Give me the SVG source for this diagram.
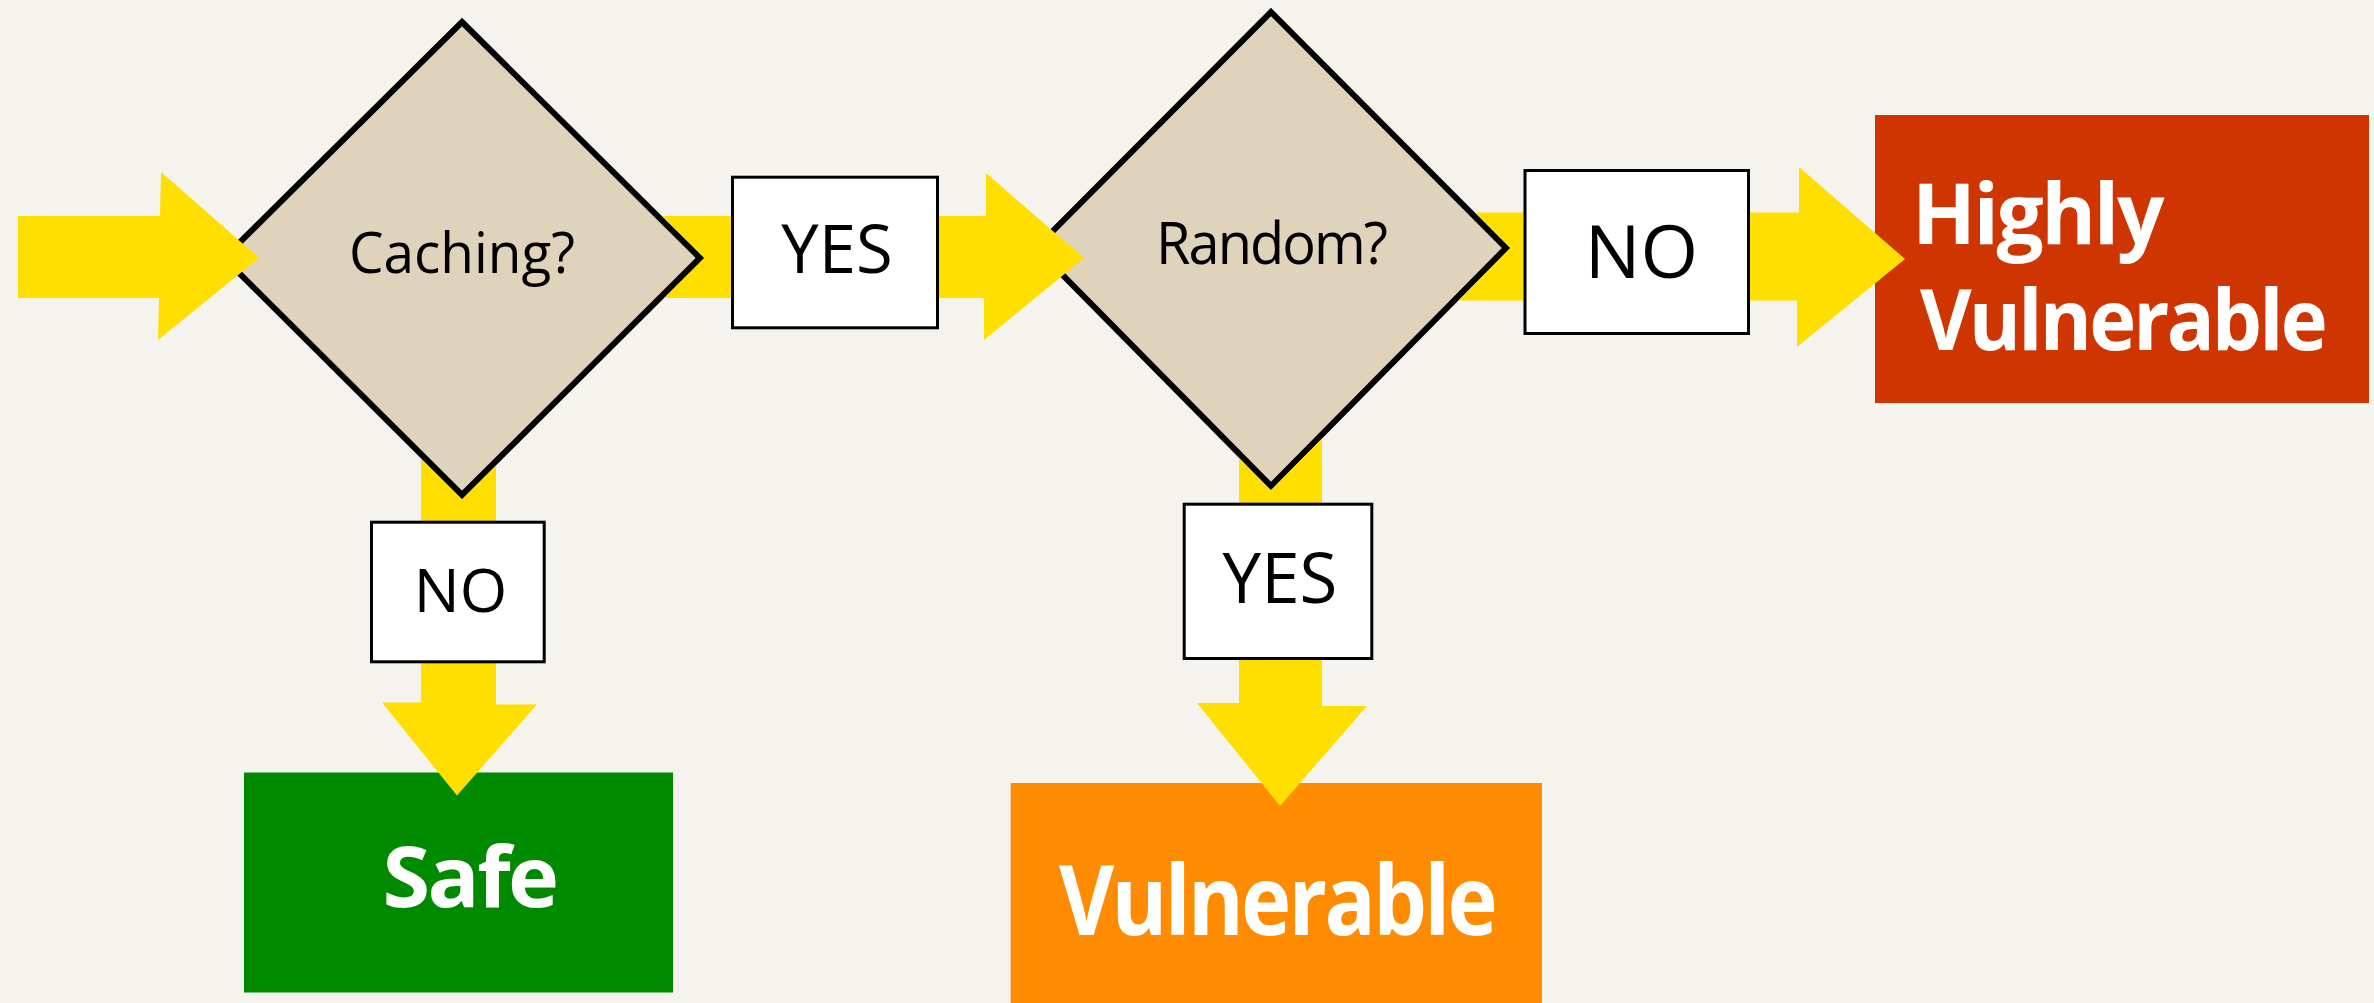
<svg xmlns="http://www.w3.org/2000/svg" width="2374" height="1003" viewBox="0 0 2374 1003">
<style>
.bg{fill:#F5F3EE}
.dia{fill:#E0D3BC;stroke:#000;stroke-width:6;stroke-linejoin:miter}
.arr{fill:#FFDF00;stroke:none}
.lbl{fill:#FFFFFF;stroke:#000;stroke-width:3}
.q{font-family:"Open Sans","Noto Sans","Liberation Sans",sans-serif;font-weight:380;fill:#000;text-anchor:middle}
.t{font-family:"Open Sans","Noto Sans","Liberation Sans",sans-serif;font-weight:700;fill:#FFFFFF}
</style>
<rect class="bg" x="0" y="0" width="2374" height="1003"/>
<g id="node-caching">
<polygon class="dia" points="462,22 700,258 462,495 224,258"/>
<text class="q" x="462" y="273" font-size="57" textLength="226" lengthAdjust="spacingAndGlyphs">Caching?</text>
</g>
<g id="node-random">
<polygon class="dia" points="1271,12 1506,248 1271,486 1036,248"/>
<text class="q" x="1271" y="264" font-size="58" letter-spacing="-2" textLength="230" lengthAdjust="spacingAndGlyphs">Random?</text>
</g>
<g id="node-safe">
<rect x="244" y="772.5" width="429" height="220" fill="#008A00"/>
<text class="t" x="382.5" y="907.3" font-size="84" letter-spacing="-2.5" textLength="174" lengthAdjust="spacingAndGlyphs">Safe</text>
</g>
<g id="node-vulnerable">
<rect x="1010.7" y="783" width="531.3" height="230" fill="#FF8C00"/>
<text class="t" x="1059" y="935" font-size="96" letter-spacing="-3" textLength="436" lengthAdjust="spacingAndGlyphs">Vulnerable</text>
</g>
<g id="node-highly">
<rect x="1875" y="115" width="494" height="288" fill="#CF3500"/>
<text class="t" x="1912" y="244.3" font-size="85" letter-spacing="-2.5" textLength="250" lengthAdjust="spacingAndGlyphs">Highly</text>
<text class="t" x="1920" y="350" font-size="85" letter-spacing="-3" textLength="405" lengthAdjust="spacingAndGlyphs">Vulnerable</text>
</g>
<g id="connectors">
<polygon class="arr" points="18,216 160,216 161,172 259,258 158,340 159,298 18,298"/>
<polygon class="arr" points="662,216 986,216 986,173 1084,258 984,340 984,298 664,298 704.5,258"/>
<polygon class="arr" points="1475,212.5 1799,212.5 1799,167 1905,259 1797,347 1797,300.5 1458.7,300.5 1510.5,248"/>
<polygon class="arr" points="421,458.7 462,499.5 496,465.6 496,704.5 537,704.5 457,795.5 382,702.5 421,702.5"/>
<polygon class="arr" points="1239,458.5 1270.6,490.5 1322,438.5 1322,706 1367,706 1280,806 1197,703 1239,703"/>
</g>
<g id="edge-labels">
<g id="label-yes-1">
<rect class="lbl" x="732.5" y="177.2" width="205" height="150.6"/>
<text class="q" x="837" y="273" font-size="67">YES</text>
</g>
<g id="label-no-1">
<rect class="lbl" x="371.5" y="522.2" width="172.7" height="139.6"/>
<text class="q" x="460.5" y="612" font-size="61">NO</text>
</g>
<g id="label-no-2">
<rect class="lbl" x="1525" y="170.5" width="223.5" height="163"/>
<text class="q" x="1641.5" y="278" font-size="74">NO</text>
</g>
<g id="label-yes-2">
<rect class="lbl" x="1184.2" y="504.2" width="187.6" height="154.3"/>
<text class="q" x="1280" y="603" font-size="69">YES</text>
</g>
</g>
</svg>
